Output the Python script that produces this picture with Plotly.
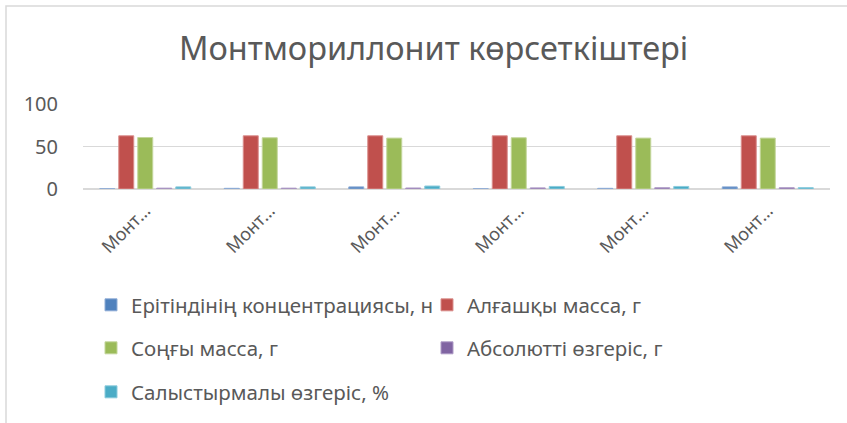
import plotly.graph_objects as go

categories = ["Монтмориллонит 1", "Монтмориллонит 2", "Монтмориллонит 3",
              "Монтмориллонит 4", "Монтмориллонит 5", "Монтмориллонит 6"]
tick_labels = ["Монт…"] * 6

series_names = ["Ерітіндінің концентрациясы, н", "Алғашқы масса, г", "Соңғы масса, г",
                "Абсолютті өзгеріс, г", "Салыстырмалы өзгеріс, %"]
concentration = [0.3, 0.8, 2.5, 0.3, 0.8, 2.5]
initial_mass = [62.6, 62.6, 62.6, 62.6, 62.6, 62.6]
final_mass = [60.6, 60.3, 59.9, 60.3, 59.9, 59.9]
abs_change = [1.0, 1.0, 1.2, 1.3, 1.5, 1.5]
rel_change = [2.5, 2.5, 3.5, 3.0, 3.0, 1.6]

colors = ["#4F81BD", "#C0504D", "#9BBB59", "#8064A2", "#4BACC6"]
edge = ["#8FADD6", "#DA8F8D", "#C3D69B", "#AE9BC6", "#8CCBDC"]
legend_ids = ["legend", "legend", "legend2", "legend2", "legend3"]
series_vals = [concentration, initial_mass, final_mass, abs_change, rel_change]

FONT = "Noto Sans"
TXT = "#595959"

fig = go.Figure()
for name, vals, c, e, lg in zip(series_names, series_vals, colors, edge, legend_ids):
    fig.add_trace(go.Bar(x=categories, y=vals, name=name, legend=lg,
                         marker=dict(color=c, line=dict(color=e, width=1))))

W, H = 847, 423
L, R, T, B = 83, 830, 103.5, 189
pw, ph = R - L, B - T

def px(x):
    return (x - L) / pw

def py(y):
    return (B - y) / ph

def cx(x):
    return x / W

def cy(y):
    return 1 - y / H

leg_common = dict(orientation="h", xanchor="left", yanchor="middle",
                  xref="container", yref="container",
                  font=dict(family=FONT, size=20.5, color=TXT),
                  bgcolor="rgba(0,0,0,0)", entrywidth=291, entrywidthmode="pixels",
                  itemclick=False)

fig.update_layout(
    width=W, height=H,
    margin=dict(l=L, r=W - R, t=T, b=H - B, pad=0, autoexpand=False),
    paper_bgcolor="white", plot_bgcolor="white",
    barmode="group", bargap=0.237, bargroupgap=0.21,
    title=dict(text="Монтмориллонит көрсеткіштері", x=0.512, xanchor="center",
               y=cy(49), yanchor="middle",
               font=dict(family=FONT, size=32.5, color=TXT)),
    legend=dict(x=cx(91), y=cy(305), **leg_common),
    legend2=dict(x=cx(91), y=cy(348), **leg_common),
    legend3=dict(x=cx(91), y=cy(392), **leg_common),
    xaxis=dict(tickmode="array", tickvals=categories, ticktext=tick_labels,
               tickangle=-45, ticks="outside", ticklen=3, tickcolor="rgba(0,0,0,0)",
               tickfont=dict(family=FONT, size=18, color=TXT),
               showline=False, showgrid=False),
    yaxis=dict(range=[0, 100], tickvals=[0, 50, 100], ticks="outside", ticklen=20,
               tickcolor="rgba(0,0,0,0)",
               tickfont=dict(family=FONT, size=20, color=TXT),
               showgrid=True, gridcolor="#D9D9D9", gridwidth=1.3,
               zeroline=True, zerolinecolor="#D9D9D9", zerolinewidth=1.5,
               showline=False),
    showlegend=True,
)

fig.add_shape(type="rect", xref="paper", yref="paper",
              x0=px(6), x1=px(900), y0=py(500), y1=py(5),
              line=dict(color="#D9D9D9", width=1.5), fillcolor="rgba(0,0,0,0)",
              layer="below")

fig.write_html("out.html", config={"displayModeBar": False},
               post_script="document.body.style.margin='0';document.body.style.overflow='hidden';")
